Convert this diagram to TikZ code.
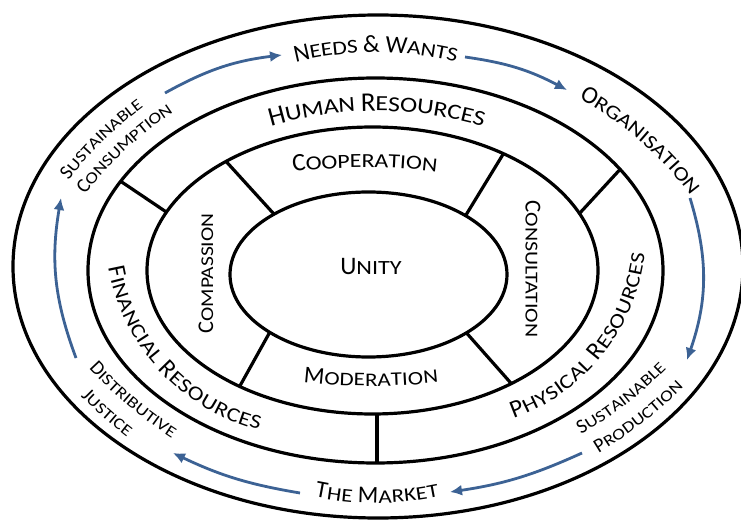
\documentclass[tikz,border=0pt]{standalone}
\usepackage{fontspec}
\setmainfont{Carlito}
\newfontfamily\carl{Carlito}
\newfontfamily\carlw[FakeStretch=1.2]{Carlito}
\usetikzlibrary{arrows.meta,decorations.text}
\definecolor{arrowblue}{RGB}{60,98,148}
\newcommand\bcz[1]{\carl\fontsize{#1}{#1}\selectfont}
\newcommand\scz[1]{\carlw\fontsize{\fpeval{0.8*#1}}{#1}\selectfont}
% #1,#2 centre, #3 radius, #4 start angle, #5 end angle, #6 raise, #7 text
\newcommand\arctext[7]{\path[decorate,decoration={text along path,text align=center,raise=#6,text={#7}}] (#1,#2) ++(#4:#3) arc[start angle=#4,end angle=#5,radius=#3];}
\begin{document}
\begin{tikzpicture}[x=0.5pt,y=0.5pt,
  ring/.style={draw=black,line width=1.6pt},
  arr/.style={draw=arrowblue,line width=1.4pt,-{Latex[length=6pt,width=5.5pt]}},
  lbl/.style={inner sep=0pt}]
\useasboundingbox (0,0) rectangle (741,521);
\fill[white] (0,0) rectangle (741,521);
% ellipse centres
\coordinate (c1) at (378,254.5);
\coordinate (c2) at (375.5,250.5);
\coordinate (c3) at (372.5,250.5);
\coordinate (c4) at (368.5,246.5);
% rings
\draw[ring] (c1) ellipse[x radius=365,y radius=251.5];
\draw[ring] (c2) ellipse[x radius=287.5,y radius=192.5];
\draw[ring] (c3) ellipse[x radius=225.5,y radius=143.5];
\draw[ring] (c4) ellipse[x radius=138.5,y radius=82.5];
% dividers of the inner ring
\path (c4) ++(133:138.5 and 82.5) coordinate (d1i);
\path (c3) ++(130.5:225.5 and 143.5) coordinate (d1o);
\path (c4) ++(45.5:138.5 and 82.5) coordinate (d2i);
\path (c3) ++(54.5:225.5 and 143.5) coordinate (d2o);
\path (c4) ++(224.5:138.5 and 82.5) coordinate (d3i);
\path (c3) ++(233.9:225.5 and 143.5) coordinate (d3o);
\path (c4) ++(315:138.5 and 82.5) coordinate (d4i);
\path (c3) ++(308:225.5 and 143.5) coordinate (d4o);
\draw[ring] (d1i) -- (d1o);
\draw[ring] (d2i) -- (d2o);
\draw[ring] (d3i) -- (d3o);
\draw[ring] (d4i) -- (d4o);
% dividers of the resources ring
\path (c3) ++(156:225.5 and 143.5) coordinate (h1i);
\path (c2) ++(152.4:287.5 and 192.5) coordinate (h1o);
\path (c3) ++(23.4:225.5 and 143.5) coordinate (h2i);
\path (c2) ++(31.7:287.5 and 192.5) coordinate (h2o);
\coordinate (h3i) at (377,107);
\coordinate (h3o) at (377,58);
\draw[ring] (h1i) -- (h1o);
\draw[ring] (h2i) -- (h2o);
\draw[ring] (h3i) -- (h3o);
% centre texts
\node[lbl] (unity) at (371,254) {\bcz{12.6}U\scz{12.6}NITY};
\node[lbl,rotate=90] (compassion) at (206,247.5) {\bcz{11.2}C\scz{11.2}OMPASSION};
\node[lbl,rotate=-90] (consultation) at (533,252) {\bcz{11.4}C\scz{11.4}ONSULTATION};
\arctext{365}{-239}{599}{100}{80}{-3.25pt}{|\bcz{12.5}|C|\scz{12.5}|OOPERATION}
\arctext{371}{741}{600}{260}{280}{-3.1pt}{|\bcz{12}|M|\scz{12}|ODERATION}
% resources ring
\arctext{377}{34}{383}{110}{70}{-3.5pt}{|\bcz{13.5}|H|\scz{13.5}|UMAN |\bcz{13.5}|R|\scz{13.5}|ESOURCES}
\arctext{309}{289}{197.5}{178}{268}{-3.25pt}{|\bcz{12.5}|F|\scz{12.5}|INANCIAL |\bcz{12.5}|R|\scz{12.5}|ESOURCES}
\arctext{447}{290}{192.5}{276.5}{366.5}{-3.25pt}{|\bcz{12.5}|P|\scz{12.5}|HYSICAL |\bcz{12.5}|R|\scz{12.5}|ESOURCES}
% outer ring
\arctext{376}{135}{340}{110}{70}{-3.2pt}{|\bcz{12.3}|N|\scz{12.3}|EEDS |\bcz{12.3}|{\&} W|\scz{12.3}|ANTS}
\arctext{416}{122}{348}{70}{28}{-3.2pt}{|\bcz{12.3}|O|\scz{12.3}|RGANISATION}
\arctext{374}{105}{391}{149.5}{119.5}{-2.6pt}{|\bcz{10}|S|\scz{10}|USTAINABLE}
\arctext{374}{105}{369}{148}{118}{-2.6pt}{|\bcz{10}|C|\scz{10}|ONSUMPTION}
\arctext{401.5}{440.7}{420}{218}{242}{-2.6pt}{|\bcz{10}|D|\scz{10}|ISTRIBUTIVE}
\arctext{401.5}{440.7}{445}{220.5}{236.5}{-2.6pt}{|\bcz{10}|J|\scz{10}|USTICE}
\arctext{366}{453}{420}{295.7}{319.7}{-2.6pt}{|\bcz{10}|S|\scz{10}|USTAINABLE}
\arctext{366}{453}{445}{298}{318}{-2.6pt}{|\bcz{10}|P|\scz{10}|RODUCTION}
\arctext{377}{324}{300}{254}{286}{-3.1pt}{|\bcz{12}|T|\scz{12}|HE |\bcz{12}|M|\scz{12}|ARKET}
% cycle arrows
\coordinate (a1s) at (165,428); \coordinate (a1e) at (282,466);
\coordinate (a2s) at (465,464); \coordinate (a2e) at (567,431);
\coordinate (a3s) at (690,323); \coordinate (a3e) at (687,161);
\coordinate (a4s) at (582,68);  \coordinate (a4e) at (450,29);
\coordinate (a5s) at (300,28);  \coordinate (a5e) at (173,68);
\coordinate (a6s) at (76,163);  \coordinate (a6e) at (61,323);
\draw[arr] (a1s) to[bend left=11] (a1e);
\draw[arr] (a2s) to[bend left=10] (a2e);
\draw[arr] (a3s) to[bend left=18] (a3e);
\draw[arr] (a4s) to[bend left=8] (a4e);
\draw[arr] (a5s) to[bend left=8] (a5e);
\draw[arr] (a6s) to[bend left=15] (a6e);
\end{tikzpicture}
\end{document}
